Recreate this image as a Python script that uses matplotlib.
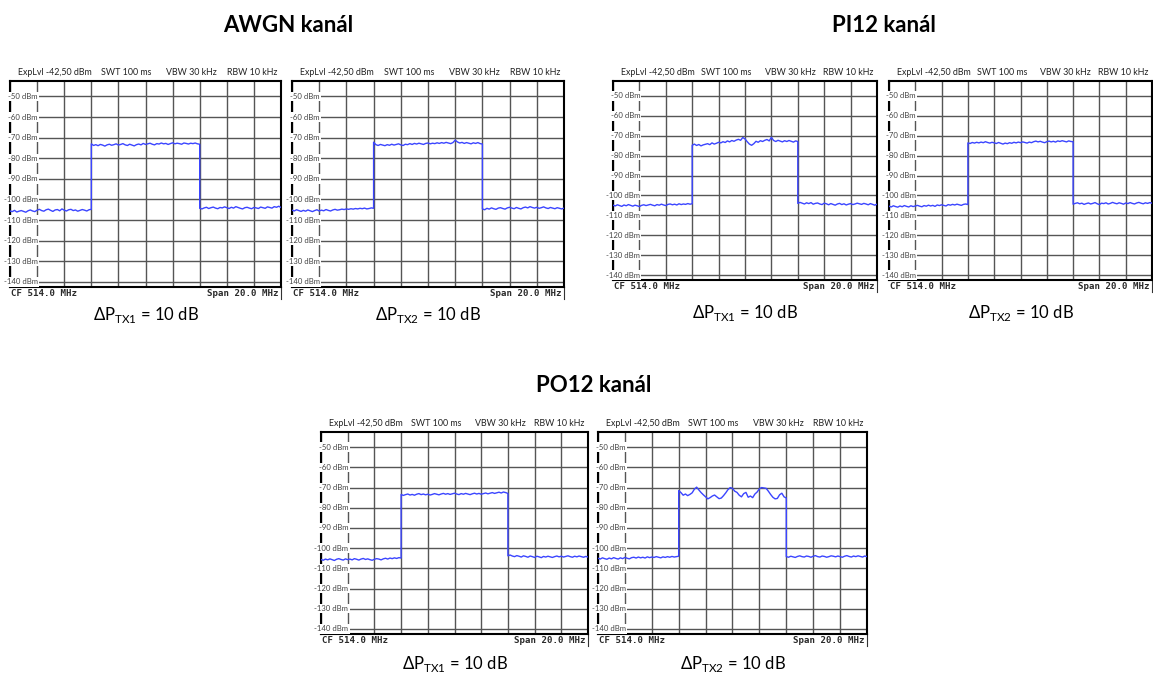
import numpy as np
import matplotlib.pyplot as plt

plt.rcParams['font.family'] = ['Lato', 'DejaVu Sans']
plt.rcParams['mathtext.fontset'] = 'custom'
plt.rcParams['mathtext.rm'] = 'Lato'

# analyzer settings shown on every screen
HEADER = ["ExpLvl -42,50 dBm", "SWT 100 ms", "VBW 30 kHz", "RBW 10 kHz"]
CF_LABEL = "CF 514.0 MHz"
SPAN_LABEL = "Span 20.0 MHz"
F_START, F_STOP = 504.0, 524.0       # MHz
BAND_LO, BAND_HI = 510.0, 518.0      # MHz, occupied channel
REF_LEVEL = -42.5                    # dBm
LEVEL_TICKS = [-50, -60, -70, -80, -90, -100, -110, -120, -130, -140]

GROUPS = ["AWGN kanál", "PI12 kanál", "PO12 kanál"]

# traces in dBm: noise below the channel, the channel itself, noise above it
awgn_tx1_lo = [-105.6, -105.9, -105.3, -106.1, -105.7, -105.4, -105.8, -106.2, -105.5, -105.1,
               -105.6, -105.9, -105.2, -104.8, -105.4, -105.7, -105.0, -104.7, -105.3, -105.8,
               -105.1, -104.9, -105.5, -104.6, -105.2, -105.6, -105.0, -104.8, -105.4, -105.1,
               -105.7, -105.3, -104.9, -105.2, -105.6, -105.0, -104.8]
awgn_tx1_ch = [-73.0, -73.8, -73.4, -73.9, -73.3, -73.6, -74.1, -73.5, -73.2, -73.7,
               -73.4, -73.0, -73.6, -73.3, -72.9, -73.5, -73.8, -73.2, -73.6, -74.0,
               -73.4, -73.1, -73.5, -72.8, -73.3, -73.0, -72.7, -73.2, -73.5, -72.9,
               -73.1, -72.6, -73.0, -72.8, -73.3, -72.9, -72.5, -73.0, -72.7, -72.9,
               -73.2, -72.6, -72.8, -73.1, -72.7, -72.9, -72.6, -73.0, -73.2]
awgn_tx1_hi = [-104.3, -104.6, -104.1, -103.8, -104.4, -104.0, -103.7, -104.2, -104.5, -103.9,
               -104.1, -103.6, -104.0, -104.4, -103.8, -104.2, -103.5, -103.9, -104.3, -104.6,
               -104.0, -103.8, -104.2, -104.5, -103.9, -104.1, -104.4, -103.7, -104.0, -104.3,
               -103.6, -103.9, -104.2, -103.5, -103.8, -103.3, -103.9]

awgn_tx2_lo = [-105.2, -105.6, -105.0, -105.4, -105.8, -105.3, -105.7, -105.1, -105.5, -105.9,
               -105.4, -105.0, -105.6, -105.2, -105.5, -104.9, -105.3, -105.6, -105.1, -104.8,
               -105.2, -105.0, -104.7, -104.9, -104.6, -104.8, -104.5, -104.7, -104.4, -104.6,
               -104.3, -104.5, -104.2, -104.6, -104.4, -104.1, -104.3]
awgn_tx2_ch = [-72.2, -73.4, -73.8, -73.3, -73.6, -73.9, -73.4, -73.7, -73.2, -73.6,
               -73.3, -73.0, -73.5, -73.8, -73.2, -73.4, -72.9, -73.3, -72.8, -73.1,
               -72.7, -73.0, -73.3, -72.8, -72.6, -73.0, -72.7, -72.9, -72.5, -72.8,
               -72.4, -72.7, -72.3, -72.6, -72.9, -72.4, -71.2, -72.1, -72.6, -72.3,
               -72.8, -72.4, -72.7, -73.0, -72.5, -72.8, -72.4, -72.9, -73.1]
awgn_tx2_hi = [-104.6, -105.0, -104.3, -104.7, -104.1, -104.5, -104.8, -104.2, -104.0, -104.4,
               -104.7, -104.1, -103.8, -104.2, -104.5, -103.9, -104.3, -104.6, -104.0, -103.7,
               -104.1, -103.5, -103.9, -104.2, -103.8, -104.3, -104.0, -103.6, -104.1, -104.4,
               -103.9, -104.2, -104.5, -104.0, -104.3, -104.6, -104.2]

pi12_tx1_lo = [-104.9, -105.3, -104.7, -105.1, -105.5, -104.8, -105.2, -104.6, -105.0, -105.4,
               -104.9, -105.2, -105.6, -105.0, -104.7, -105.1, -104.8, -104.5, -104.9, -105.2,
               -104.6, -104.9, -104.4, -104.8, -105.1, -104.5, -104.3, -104.7, -104.4, -104.8,
               -104.2, -104.6, -104.3, -104.5, -104.1, -104.4, -104.2]
pi12_tx1_ch = [-74.8, -74.2, -74.9, -74.4, -75.1, -74.6, -74.3, -74.0, -74.5, -73.6,
               -74.2, -73.8, -73.3, -73.6, -73.0, -73.4, -72.6, -73.1, -72.4, -72.8,
               -72.2, -71.8, -72.3, -70.9, -71.6, -73.0, -74.2, -74.8, -74.0, -72.8,
               -73.3, -72.5, -72.9, -72.3, -71.9, -72.6, -70.8, -72.4, -72.9, -72.3,
               -72.7, -73.1, -72.5, -72.9, -72.4, -72.8, -73.2, -72.6, -72.9]
pi12_tx1_hi = [-104.0, -103.5, -103.9, -104.3, -103.7, -104.1, -103.6, -104.4, -104.0, -103.8,
               -104.3, -104.6, -103.9, -104.2, -104.7, -104.1, -104.5, -104.9, -104.3, -104.0,
               -104.6, -104.2, -104.8, -104.4, -104.1, -104.6, -104.3, -103.9, -104.2, -104.5,
               -104.0, -104.3, -104.7, -104.1, -104.5, -104.9, -104.4]

pi12_tx2_lo = [-105.4, -105.8, -105.2, -105.6, -105.9, -105.3, -105.7, -105.1, -105.5, -105.8,
               -105.2, -105.6, -105.3, -105.0, -105.4, -105.7, -105.1, -105.4, -104.9, -105.3,
               -105.0, -105.5, -104.8, -105.1, -104.7, -105.0, -105.3, -104.6, -104.9, -104.5,
               -104.8, -104.4, -104.7, -105.0, -104.5, -104.3, -104.6]
pi12_tx2_ch = [-73.6, -73.9, -73.4, -73.7, -73.3, -73.6, -73.2, -73.5, -73.0, -73.4,
               -73.7, -73.3, -73.6, -73.9, -73.4, -73.8, -74.2, -73.7, -74.0, -73.5,
               -73.8, -73.3, -73.6, -73.2, -73.5, -73.1, -73.4, -73.7, -73.2, -73.5,
               -73.0, -72.7, -73.1, -72.8, -73.2, -73.5, -73.0, -72.7, -73.1, -72.8,
               -73.2, -72.6, -72.9, -72.5, -72.8, -73.1, -72.6, -72.9, -73.0]
pi12_tx2_hi = [-104.4, -104.0, -103.7, -104.2, -103.9, -104.5, -104.1, -103.8, -104.3, -104.0,
               -103.6, -104.2, -104.6, -103.9, -104.1, -103.7, -104.3, -104.0, -103.5, -103.9,
               -104.2, -103.7, -104.0, -104.4, -103.8, -104.1, -103.6, -104.0, -104.3, -103.8,
               -103.5, -103.9, -104.2, -103.7, -104.0, -103.6, -103.9]

po12_tx1_lo = [-105.6, -106.0, -105.4, -105.8, -105.3, -105.7, -106.1, -105.5, -105.2, -105.6,
               -105.9, -105.3, -105.7, -105.4, -105.8, -105.2, -105.5, -105.9, -105.4, -105.1,
               -105.6, -105.3, -105.7, -106.0, -105.5, -105.2, -105.4, -105.8, -105.3, -105.0,
               -105.4, -104.9, -105.2, -104.8, -105.1, -104.7, -104.9]
po12_tx1_ch = [-73.4, -73.9, -73.5, -73.2, -73.7, -73.4, -73.8, -73.3, -73.0, -73.5,
               -73.2, -73.6, -73.3, -73.7, -73.4, -73.0, -73.3, -73.6, -73.2, -72.9,
               -73.3, -73.0, -73.4, -73.1, -72.8, -73.2, -73.5, -73.0, -73.3, -72.9,
               -73.2, -73.5, -73.1, -72.8, -73.2, -72.9, -73.3, -73.0, -72.7, -73.1,
               -72.8, -72.5, -72.9, -72.6, -72.3, -72.7, -72.2, -72.5, -72.9]
po12_tx1_hi = [-103.8, -103.4, -103.9, -104.2, -103.7, -104.0, -104.4, -103.8, -104.1, -104.5,
               -103.9, -104.2, -104.6, -104.0, -104.3, -104.7, -104.1, -104.4, -104.0, -104.3,
               -104.6, -104.2, -103.9, -104.3, -104.0, -104.4, -104.1, -103.8, -104.2, -104.5,
               -104.0, -104.3, -103.9, -104.2, -104.5, -104.1, -104.4]

po12_tx2_lo = [-105.0, -105.4, -104.8, -105.2, -105.5, -104.9, -105.3, -104.7, -105.1, -105.4,
               -104.8, -105.2, -104.6, -105.0, -105.3, -104.7, -104.5, -104.9, -104.4, -104.8,
               -104.5, -104.9, -104.3, -104.7, -104.4, -104.6, -104.2, -104.5, -104.8, -104.3,
               -104.6, -104.2, -104.5, -104.1, -104.4, -104.2, -104.0]
po12_tx2_ch = [-71.5, -72.5, -73.8, -73.2, -74.0, -73.4, -72.6, -70.8, -69.8, -71.2,
               -72.5, -73.6, -74.6, -75.6, -75.0, -74.2, -73.7, -74.6, -75.5, -75.2,
               -74.0, -72.6, -71.0, -70.0, -70.4, -71.8, -72.4, -73.8, -74.6, -73.0,
               -72.4, -74.8, -74.2, -75.0, -73.2, -72.2, -70.6, -70.0, -70.2, -70.4,
               -71.8, -73.4, -74.8, -75.6, -75.4, -73.6, -72.8, -74.6, -75.2]
po12_tx2_hi = [-104.2, -104.5, -104.0, -104.3, -104.6, -104.1, -103.8, -104.2, -104.4, -103.9,
               -104.1, -104.5, -104.0, -103.7, -104.2, -104.4, -103.9, -104.1, -104.5, -104.2,
               -103.8, -104.0, -104.3, -103.9, -104.2, -104.5, -104.0, -103.7, -104.1, -104.4,
               -103.9, -104.2, -103.8, -104.1, -104.4, -103.9, -104.2]

DELTA_TX1 = 10  # dB
DELTA_TX2 = 10  # dB

W, H = 1153, 673
TRACE = "#3b45ff"
GRID = "#555555"
SMALL = ["Lato", "DejaVu Sans"]


def px_rect(x0, y0, x1, y1):
    return [x0 / W, 1 - y1 / H, (x1 - x0) / W, (y1 - y0) / H]


def draw_screen(ax, lo, ch, hi, hpx):
    f = np.concatenate([np.linspace(F_START, BAND_LO, len(lo)),
                        np.linspace(BAND_LO, BAND_HI, len(ch)),
                        np.linspace(BAND_HI, F_STOP, len(hi))])
    p = np.concatenate([lo, ch, hi])

    ax.set_xlim(F_START, F_STOP)
    ax.set_ylim(REF_LEVEL - 100, REF_LEVEL)
    ax.set_xticks(np.arange(F_START, F_STOP + 0.1, 2.0))
    ax.set_yticks(LEVEL_TICKS)
    ax.tick_params(length=0, labelbottom=False, labelleft=False)
    ax.grid(True, color=GRID, lw=1.0)
    for s in ax.spines.values():
        s.set_linewidth(1.5)
        s.set_color("black")

    # level labels sit on the screen, left of the second vertical division
    for lv in LEVEL_TICKS:
        ax.text(F_START + 2.05, lv, f"{lv} dBm", ha="right", va="center",
                fontsize=5.6, color="#444444", family=SMALL,
                bbox=dict(facecolor="white", edgecolor="none", pad=0.9), zorder=3)

    ax.plot(f, p, color=TRACE, lw=1.0, zorder=4)

    top = 1 + 8.5 / hpx
    for txt, xr, ha in zip(HEADER, [0.03, 0.43, 0.67, 0.985], ["left", "center", "center", "right"]):
        ax.text(xr, top, txt, transform=ax.transAxes, ha=ha, va="center",
                fontsize=6.4, color="#222222", family=SMALL)
    bot = -6.5 / hpx
    ax.text(0.004, bot, CF_LABEL, transform=ax.transAxes, ha="left", va="center",
            fontsize=6.6, family="DejaVu Sans Mono", fontweight="bold", color="#2a2a2a")
    ax.text(0.99, bot, SPAN_LABEL, transform=ax.transAxes, ha="right", va="center",
            fontsize=6.6, family="DejaVu Sans Mono", fontweight="bold", color="#2a2a2a")
    ax.plot([1.0, 1.0], [0, -12 / hpx], transform=ax.transAxes, color="#333333",
            lw=0.8, clip_on=False)


fig = plt.figure(figsize=(W / 100, H / 100), dpi=100)

screens = [
    (px_rect(10, 81, 281, 287), awgn_tx1_lo, awgn_tx1_ch, awgn_tx1_hi, "TX1", DELTA_TX1, 315),
    (px_rect(292, 81, 564, 287), awgn_tx2_lo, awgn_tx2_ch, awgn_tx2_hi, "TX2", DELTA_TX2, 315),
    (px_rect(613, 81, 877, 280), pi12_tx1_lo, pi12_tx1_ch, pi12_tx1_hi, "TX1", DELTA_TX1, 313),
    (px_rect(889, 81, 1152, 280), pi12_tx2_lo, pi12_tx2_ch, pi12_tx2_hi, "TX2", DELTA_TX2, 313),
    (px_rect(321, 432, 588, 634), po12_tx1_lo, po12_tx1_ch, po12_tx1_hi, "TX1", DELTA_TX1, 664),
    (px_rect(598, 432, 867, 634), po12_tx2_lo, po12_tx2_ch, po12_tx2_hi, "TX2", DELTA_TX2, 664),
]

for rect, lo, ch, hi, tx, delta, ylab in screens:
    ax = fig.add_axes(rect)
    draw_screen(ax, lo, ch, hi, rect[3] * H)
    xc = (rect[0] + rect[2] / 2)
    fig.text(xc, 1 - ylab / H, r"ΔP$_{\mathrm{" + tx + r"}}$ = " + f"{delta} dB",
             ha="center", va="center", fontsize=12)

# group titles
for title, xpx, ypx in zip(GROUPS, [288, 884, 594], [25, 25, 386]):
    fig.text(xpx / W, 1 - ypx / H, title, ha="center", va="center",
             fontsize=16, fontweight="bold")

fig.savefig("out.png", dpi=100)
